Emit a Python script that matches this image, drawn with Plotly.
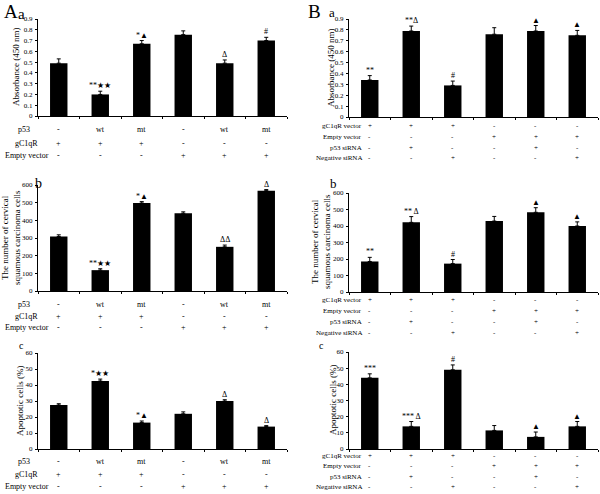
import plotly.graph_objects as go

W, H = 600, 494
FONT = "Liberation Serif, Times New Roman, serif"

# ---------------- data ----------------
groups_A = ["gC1qR", "gC1qR+p53wt", "gC1qR+p53mt", "Empty vector",
            "Empty vector+p53wt", "Empty vector+p53mt"]
groups_B = ["gC1qR vector", "gC1qR vector+p53 siRNA", "gC1qR vector+Negative siRNA",
            "Empty vector", "Empty vector+p53 siRNA", "Empty vector+Negative siRNA"]

A_absorb = [0.49, 0.20, 0.67, 0.755, 0.49, 0.70]
A_absorb_err = [0.04, 0.03, 0.03, 0.035, 0.03, 0.03]
A_absorb_sig = ["", "**★★", "*▲", "", "Δ", "#"]

A_cells = [308, 118, 498, 440, 250, 568]
A_cells_err = [10, 8, 8, 8, 10, 6]
A_cells_sig = ["", "**★★", "*▲", "", "ΔΔ", "Δ"]

A_apop = [27.5, 42.5, 16.5, 22.0, 30.0, 14.0]
A_apop_err = [0.8, 1.2, 1.0, 1.2, 0.8, 0.6]
A_apop_sig = ["", "*★★", "*▲", "", "Δ", "Δ"]

B_absorb = [0.34, 0.79, 0.29, 0.76, 0.79, 0.75]
B_absorb_err = [0.04, 0.045, 0.04, 0.06, 0.05, 0.045]
B_absorb_sig = ["**", "**Δ", "#", "", "▲", "▲"]

B_cells = [185, 422, 172, 430, 483, 400]
B_cells_err = [25, 35, 25, 28, 28, 25]
B_cells_sig = ["**", "** Δ", "#", "", "▲", "▲"]

B_apop = [44.0, 14.0, 49.0, 11.5, 7.5, 14.0]
B_apop_err = [2.5, 3.0, 3.0, 3.0, 3.0, 3.0]
B_apop_sig = ["***", "*** Δ", "#", "", "▲", "▲"]

A_rows = ["p53", "gC1qR", "Empty vector"]
A_p53 = ["-", "wt", "mt", "-", "wt", "mt"]
A_gc1qr = ["+", "+", "+", "-", "-", "-"]
A_empty = ["-", "-", "-", "+", "+", "+"]

B_rows = ["gC1qR vector", "Empty vector", "p53 siRNA", "Negative siRNA"]
B_gc1qr = ["+", "+", "+", "-", "-", "-"]
B_empty = ["-", "-", "-", "+", "+", "+"]
B_p53si = ["-", "+", "-", "-", "+", "-"]
B_negsi = ["-", "-", "+", "-", "-", "+"]

y_titles = ["Absorbance (450 nm)",
            "The number of cervical<br>squamous carcinoma cells",
            "Apoptotic cells (%)"]
y_ranges = [[0, 0.9], [0, 600], [0, 60]]
y_dticks = [0.1, 100, 10]


def px(x):
    return x / W


def py(y):
    return 1 - y / H


fig = go.Figure()
annotations = []

panels = [
    # (groups, vals, errs, sigs, xdom px, ytop px, yzero px, row)
    (groups_A, A_absorb, A_absorb_err, A_absorb_sig, (38, 287), 19, 116, 0),
    (groups_A, A_cells, A_cells_err, A_cells_sig, (38, 287), 185, 291, 1),
    (groups_A, A_apop, A_apop_err, A_apop_sig, (38, 287), 353, 449, 2),
    (groups_B, B_absorb, B_absorb_err, B_absorb_sig, (349, 598), 19, 117, 0),
    (groups_B, B_cells, B_cells_err, B_cells_sig, (349, 598), 193, 292, 1),
    (groups_B, B_apop, B_apop_err, B_apop_sig, (349, 598), 352, 449, 2),
]

layout_axes = {}
for i, (grp, vals, errs, sigs, xd, yt, yz, row) in enumerate(panels):
    n = i + 1
    xa = "x" if n == 1 else f"x{n}"
    ya = "y" if n == 1 else f"y{n}"
    fig.add_trace(go.Bar(
        x=grp, y=vals, xaxis=xa, yaxis=ya,
        marker=dict(color="black", line=dict(width=0)),
        width=0.42,
        error_y=dict(type="data", symmetric=False, array=errs,
                     arrayminus=[0] * len(errs), color="black",
                     thickness=1, width=2),
        showlegend=False, hoverinfo="skip",
    ))
    xkey = "xaxis" if n == 1 else f"xaxis{n}"
    ykey = "yaxis" if n == 1 else f"yaxis{n}"
    layout_axes[xkey] = dict(
        domain=[px(xd[0]), px(xd[1])], anchor=ya, type="category",
        categoryorder="array", categoryarray=grp, automargin=False,
        showticklabels=False, tickson="boundaries", ticks="outside",
        ticklen=2, tickcolor="black", showline=True, linecolor="black",
        linewidth=1, showgrid=False, zeroline=False, fixedrange=True,
        range=[-0.5, 5.5],
    )
    layout_axes[ykey] = dict(
        domain=[py(yz), py(yt)], anchor=xa, range=y_ranges[row],
        dtick=y_dticks[row], tick0=0, ticks="outside", ticklen=2,
        tickcolor="black", showline=True, linecolor="black", linewidth=1,
        showgrid=False, zeroline=False, automargin=False, fixedrange=True,
        tickfont=dict(family=FONT, size=7, color="black"),
        ticklabelstandoff=1,
    )
    for g, v, e, s in zip(grp, vals, errs, sigs):
        if s:
            annotations.append(dict(
                x=g, y=v + e, xref=xa, yref=ya, text=s, showarrow=False,
                yanchor="bottom", yshift=-1,
                font=dict(family=FONT, size=8, color="black"),
            ))

# y-axis titles
ytitle_pos = [  # (x px, y px) for A rows then B rows
    (16, 67), (11, 238), (20, 401),
    (331, 68), (321, 242), (333, 400),
]
for k, (xx, yy) in enumerate(ytitle_pos):
    annotations.append(dict(
        x=px(xx), y=py(yy), xref="paper", yref="paper",
        text=y_titles[k % 3], textangle=-90, showarrow=False,
        xanchor="center", yanchor="middle",
        font=dict(family=FONT, size=9, color="black"),
    ))

# condition rows under A panels
A_marks = [A_p53, A_gc1qr, A_empty]
A_row_y = [[129, 143, 155], [304, 316, 327], [461, 474, 486]]
A_label_x = [16, 13, 3]
for r in range(3):
    xa = "x" if r == 0 else f"x{r + 1}"
    for j, lbl in enumerate(A_rows):
        yy = A_row_y[r][j]
        annotations.append(dict(
            x=px(A_label_x[j]), y=py(yy), xref="paper", yref="paper",
            text=lbl, showarrow=False, xanchor="left", yanchor="middle",
            font=dict(family=FONT, size=8, color="black"),
        ))
        for g, m in zip(groups_A, A_marks[j]):
            annotations.append(dict(
                x=g, y=py(yy), xref=xa, yref="paper", text=m,
                showarrow=False, xanchor="center", yanchor="middle",
                font=dict(family=FONT, size=8, color="black"),
            ))

# condition rows under B panels
B_marks = [B_gc1qr, B_empty, B_p53si, B_negsi]
B_row_y = [[126, 137, 148, 158], [300, 311, 322, 333], [456, 466, 477, 487]]
for r in range(3):
    xa = f"x{r + 4}"
    for j, lbl in enumerate(B_rows):
        yy = B_row_y[r][j]
        annotations.append(dict(
            x=px(364), y=py(yy), xref="paper", yref="paper",
            text=lbl, showarrow=False, xanchor="right", yanchor="middle",
            font=dict(family=FONT, size=7, color="black"),
        ))
        for g, m in zip(groups_B, B_marks[j]):
            annotations.append(dict(
                x=g, y=py(yy), xref=xa, yref="paper", text=m,
                showarrow=False, xanchor="center", yanchor="middle",
                font=dict(family=FONT, size=7, color="black"),
            ))

# panel letters
letters = [
    ("A", 2, 11, 19), ("a", 16, 14, 15),
    ("B", 306, 11, 19), ("a", 327, 13, 13),
    ("b", 33, 184, 14), ("b", 328, 184, 13),
    ("c", 17, 345, 10), ("c", 317, 345, 10),
]
for t, xx, yy, sz in letters:
    annotations.append(dict(
        x=px(xx), y=py(yy), xref="paper", yref="paper", text=t,
        showarrow=False, xanchor="left", yanchor="middle",
        font=dict(family=FONT, size=sz, color="black"),
    ))

fig.update_layout(
    width=W, height=H, margin=dict(l=0, r=0, t=0, b=0, autoexpand=False),
    paper_bgcolor="white", plot_bgcolor="white",
    annotations=annotations, bargap=0.5,
    font=dict(family=FONT, color="black"),
    **layout_axes,
)

fig.write_html(
    "out.html",
    config={"displayModeBar": False, "staticPlot": True},
    post_script="document.body.style.margin='0';document.body.style.overflow='hidden';",
)
